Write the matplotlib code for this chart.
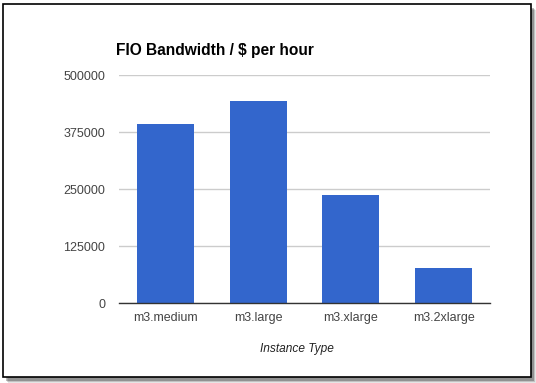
import matplotlib.pyplot as plt
from matplotlib.patches import Rectangle

categories = ["m3.medium", "m3.large", "m3.xlarge", "m3.2xlarge"]
values = [392000, 443000, 237000, 77000]
yticks = [0, 125000, 250000, 375000, 500000]

plt.rcParams["font.family"] = ["Liberation Sans", "DejaVu Sans"]

fig = plt.figure(figsize=(5.36, 3.83), dpi=100)
fig.patch.set_facecolor("white")

# card frame with a soft drop shadow
W, H = 536, 383
for i, a in enumerate([0.10, 0.15, 0.25]):
    off = 4 - i
    fig.patches.append(Rectangle(((4 + off) / W, (5 - off - 1) / H), 528 / W, 373 / H,
                                 transform=fig.transFigure, facecolor="black", alpha=a,
                                 edgecolor="none", zorder=0))
fig.patches.append(Rectangle((3 / W, 6 / H), 528 / W, 373 / H, transform=fig.transFigure,
                             facecolor="white", edgecolor="black", linewidth=1.2, zorder=1))

ax = fig.add_axes([119.3 / W, 1 - 303.3 / H, 370.7 / W, 228.3 / H])
ax.set_facecolor("none")
ax.set_zorder(2)

x = range(len(categories))
ax.bar(x, values, width=0.615, color="#3366cc", zorder=3)
ax.set_xlim(-0.5, 3.5)
ax.set_ylim(0, 500000)
ax.set_yticks(yticks)
ax.set_yticklabels([str(t) for t in yticks])
ax.set_xticks(list(x))
ax.set_xticklabels(categories)
ax.tick_params(axis="both", length=0, labelsize=9, colors="#444444")
ax.tick_params(axis="y", pad=10)
ax.tick_params(axis="x", pad=6)
ax.grid(axis="y", color="#cccccc", linewidth=1, zorder=0)
for s in ["top", "right", "left"]:
    ax.spines[s].set_visible(False)
ax.spines["bottom"].set_color("#333333")
ax.spines["bottom"].set_linewidth(1)
ax.spines["bottom"].set_zorder(4)

ax.set_xlabel("Instance Type", fontsize=8.6, style="italic", color="#222222")
ax.xaxis.set_label_coords((297 - 119.3) / 370.7, -(348.7 - 303.3) / 228.3)
ax.xaxis.label.set_va("center")
fig.text(116 / W, 1 - 55 / H, "FIO Bandwidth / $ per hour", fontsize=11.2, fontweight="bold",
         color="black", ha="left", va="baseline", zorder=3)

fig.savefig("out.png", dpi=100)
